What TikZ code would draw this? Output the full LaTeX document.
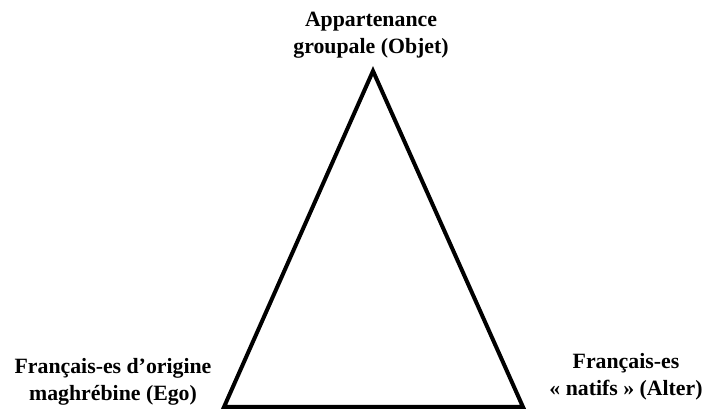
\documentclass[tikz,border=0pt]{standalone}
\usepackage{fontspec}
\setmainfont{Liberation Serif}
\usetikzlibrary{positioning}

\tikzset{
  pole/.style={align=center, inner sep=0pt, font=\fontsize{21.8}{27}\selectfont\bfseries},
  edge/.style={line width=4pt, line join=miter}
}

\begin{document}
\begin{tikzpicture}[x=1pt,y=1pt]

		\useasboundingbox
		(0,0)
		rectangle
		(705,409);

		% sommets du triangle
		\coordinate (objet) at (373,338);
		\coordinate (ego) at (224,2);
		\coordinate (alter) at (523,2);

		\draw[edge]
		(objet) -- (ego) -- (alter) -- cycle;

		\node[pole] (lobjet) at (371,374)
		{Appartenance\\groupale (Objet)};

		\node[pole] (lego) at (113,27.5)
		{Français-es d’origine\\maghrébine (Ego)};

		\node[pole] (lalter) at (626,32.5)
		{Français-es\\« natifs » (Alter)};

	\end{tikzpicture}
\end{document}
